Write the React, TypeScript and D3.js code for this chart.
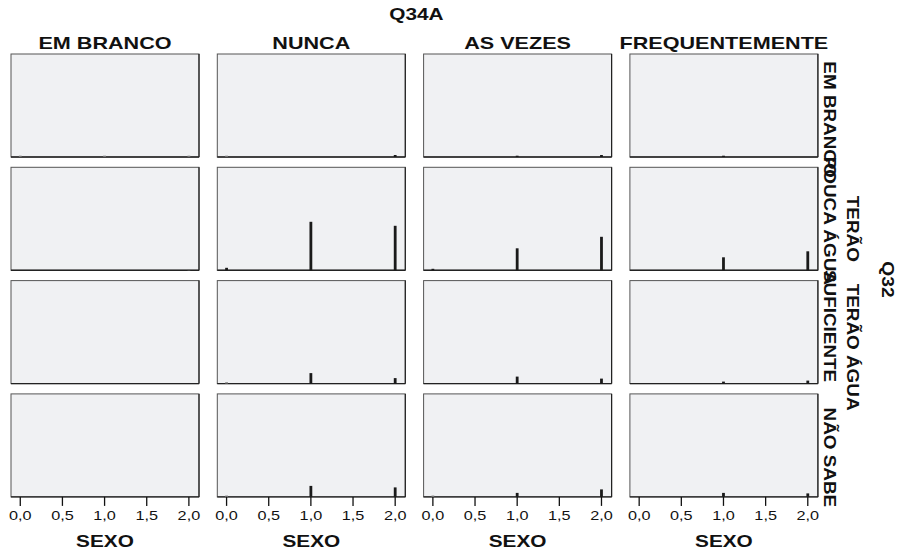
import React from 'react';
import * as d3 from 'd3';

// Q34A columns, Q32 rows, SEXO on x
const colCats = ['EM BRANCO', 'NUNCA', 'AS VEZES', 'FREQUENTEMENTE'];
const rowCats = [['EM BRANCO'], ['TERÃO', 'POUCA ÁGUA'], ['TERÃO ÁGUA', 'SUFICIENTE'], ['NÃO SABE']];
const sexoValues = [0, 1, 2];
const xTicks = [0, 0.5, 1, 1.5, 2];

// counts per Q34A column, at SEXO = 0, 1, 2
const countsEmBranco = [[1, 1, 1], [1, 0, 4], [0, 2, 4], [0, 2, 0]];
const countsPoucaAgua = [[0, 0, 1], [5, 97, 89], [3, 44, 67], [0, 26, 38]];
const countsSuficiente = [[0, 0, 0], [1, 21, 11], [0, 14, 10], [0, 4, 6]];
const countsNaoSabe = [[0, 0, 0], [1, 22, 19], [1, 8, 15], [0, 8, 7]];
const counts = [countsEmBranco, countsPoucaAgua, countsSuficiente, countsNaoSabe];

// shift of each row label line from the row centre (in px)
const rowLabelShift = [[14], [10, 2], [15, -6], [12]];

const FONT = '"Liberation Sans", Arial, sans-serif';

const StretchText = ({ x, y, rotate = 0, sx = 1.27, size = 16, bold = true, anchor = 'middle', children }) => (
  <text
    transform={`translate(${x},${y}) rotate(${rotate}) scale(${sx},1)`}
    textAnchor={anchor}
    fontFamily={FONT}
    fontSize={size}
    fontWeight={bold ? 'bold' : 'normal'}
    fill="#111"
  >
    {children}
  </text>
);

const Panel = ({ x0, y0, w, h, values, x, y, bottom }) => {
  const fmt = d3.formatLocale({ decimal: ',', thousands: '.', grouping: [3], currency: ['', ''] }).format('.1f');
  return (
    <g transform={`translate(${x0},${y0})`}>
      <rect x={0} y={0} width={w} height={h} fill="#f0f1f3" stroke="#555" strokeWidth={1} />
      <line x1={0} x2={w} y1={h} y2={h} stroke="#222" strokeWidth={1.4} />
      <line x1={w} x2={w} y1={0} y2={h} stroke="#222" strokeWidth={1.2} />
      {values.map((v, i) => {
        if (v <= 0) return null;
        const bh = Math.max(h - y(v), 1.3);
        return <rect key={i} x={x(sexoValues[i]) - 1.4} y={h - bh} width={2.8} height={bh} fill={v < 2 ? '#777' : '#1a1a1a'} />;
      })}
      {bottom && (
        <g>
          {xTicks.map((t) => (
            <g key={t}>
              <line x1={x(t)} x2={x(t)} y1={h} y2={h + 9} stroke="#111" strokeWidth={1.3} />
              <StretchText x={x(t)} y={h + 23.5} size={12.5} bold={false} sx={1.3}>
                {fmt(t)}
              </StretchText>
            </g>
          ))}
          <StretchText x={w / 2} y={h + 50} size={16} sx={1.3}>
            SEXO
          </StretchText>
        </g>
      )}
    </g>
  );
};

export default function App() {
  const left = 11;
  const top = 54;
  const panelW = 188;
  const panelH = 103;
  const colStep = 206.3;
  const rowStep = 113.3;

  const x = d3.scaleLinear().domain([-0.11, 2.12]).range([0, panelW]);
  const y = d3.scaleLinear().domain([0, 206]).range([panelH, 0]);

  const gridRight = left + 3 * colStep + panelW;
  const gridBottom = top + 3 * rowStep + panelH;

  return (
    <svg width={904} height={554} style={{ position: 'absolute', left: 0, top: 0, background: '#fff' }}>
      <StretchText x={(left + gridRight) / 2 + 2} y={20} size={16} sx={1.3}>
        Q34A
      </StretchText>
      {colCats.map((c, ci) => (
        <StretchText key={c} x={left + ci * colStep + panelW / 2} y={48.5} size={17}>
          {c}
        </StretchText>
      ))}
      {counts.map((row, ri) =>
        row.map((vals, ci) => (
          <Panel
            key={`${ri}-${ci}`}
            x0={left + ci * colStep}
            y0={top + ri * rowStep}
            w={panelW}
            h={panelH}
            values={vals}
            x={x}
            y={y}
            bottom={ri === counts.length - 1}
          />
        ))
      )}
      {rowCats.map((lines, ri) => {
        const cy = top + ri * rowStep + panelH / 2;
        return lines.map((ln, li) => {
          const fromLast = lines.length - 1 - li;
          return (
            <StretchText key={ln + ri} x={824 + fromLast * 22.7} y={cy + rowLabelShift[ri][li]} rotate={90} size={16} sx={1.18}>
              {ln}
            </StretchText>
          );
        });
      })}
      <StretchText x={881.7} y={(top + gridBottom) / 2 + 4} rotate={90} size={16} sx={1.2}>
        Q32
      </StretchText>
    </svg>
  );
}
